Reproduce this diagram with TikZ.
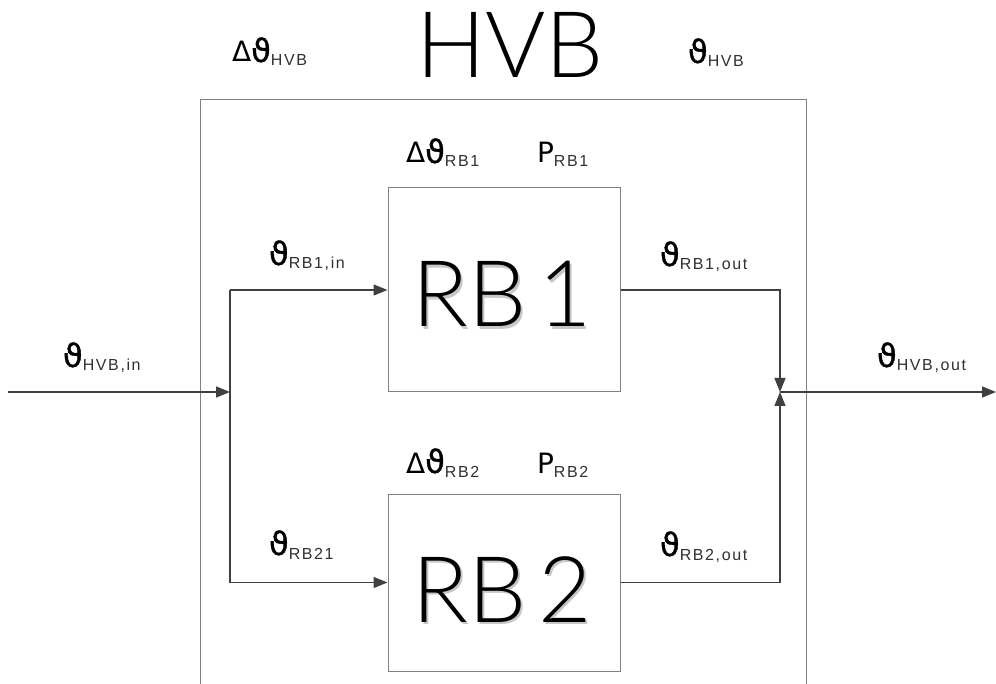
\documentclass[tikz,border=0pt]{standalone}
\usepackage{fontspec}
\setmainfont{Liberation Sans}
\newfontfamily\symfont{DejaVu Sans}
\newfontfamily\thfont{DejaVu Sans}[FakeBold=1.2]
\IfFontExistsTF{Lato Light}
  {\newfontfamily\lightfont{Lato Light}}
  {\IfFontExistsTF{Open Sans Light}
     {\newfontfamily\lightfont{Open Sans Light}}
     {\newfontfamily\lightfont{Liberation Sans}}}
\newfontfamily\subfont{Liberation Sans}[LetterSpace=10]
\usetikzlibrary{arrows.meta}
\definecolor{boxgray}{HTML}{808080}
\definecolor{linegray}{HTML}{404040}
\definecolor{subgray}{HTML}{303030}
\newcommand{\subtxt}[1]{\raisebox{-4pt}{\color{subgray}\subfont\fontsize{16}{16}\selectfont #1}}
\newcommand{\thsym}{{\thfont\fontsize{32}{32}\selectfont ϑ}}
\newcommand{\delsym}{{\symfont\fontsize{28}{28}\selectfont Δ}}
\newcommand{\psym}{{\symfont\fontsize{28}{28}\selectfont P}}
\newcommand{\shadowed}[1]{\rlap{\color{black!22}\kern2.5pt\raisebox{-2.5pt}{#1}}#1}
\tikzset{
  lbl/.style={anchor=base west, inner sep=0pt, outer sep=0pt},
  bigtxt/.style={anchor=base, inner sep=0pt, font=\lightfont\fontsize{92}{92}\selectfont},
  blockbox/.style={draw=boxgray, line width=1pt, fill=white, inner sep=0pt},
  conn/.style={draw=linegray, line width=1.3pt},
  arr/.style={conn, -{Triangle[length=14pt,width=11pt]}},
}
\begin{document}
\begin{tikzpicture}[x=1pt,y=-1pt]
\useasboundingbox (0,0) rectangle (996,684);
\clip (0,0) rectangle (996,684);
% outer box
\node[blockbox, minimum width=606pt, minimum height=620pt, anchor=north west] (outer) at (200,99) {};
\node[bigtxt] (title) at (510,78) {HVB};
\node[lbl] (dthvb) at (232,62) {\delsym\thsym\subtxt{HVB}};
\node[lbl] (thvb) at (688,63) {\thsym\subtxt{HVB}};
% blocks
\node[blockbox, minimum width=232pt, minimum height=204pt] (rb1) at (504,290) {};
\node[blockbox, minimum width=232pt, minimum height=177pt] (rb2) at (504,582.5) {};
\node[bigtxt] (rb1t) at (502,327) {\shadowed{RB\kern12pt1}};
\node[bigtxt] (rb2t) at (502,622) {\shadowed{RB\kern12pt2}};
% block labels
\node[lbl] (dtrb1) at (406,163) {\delsym\thsym\subtxt{RB1}};
\node[lbl] (prb1) at (537,163) {\psym\subtxt{RB1}};
\node[lbl] (dtrb2) at (406,473) {\delsym\thsym\subtxt{RB2}};
\node[lbl] (prb2) at (537,473) {\psym\subtxt{RB2}};
% connector labels
\node[lbl] (tin) at (63,367) {\thsym\subtxt{HVB,in}};
\node[lbl] (tout) at (877,367) {\thsym\subtxt{HVB,out}};
\node[lbl] (trb1in) at (269,265) {\thsym\subtxt{RB1,in}};
\node[lbl] (trb1out) at (660,266) {\thsym\subtxt{RB1,out}};
\node[lbl] (trb2in) at (269,555) {\thsym\subtxt{RB21}};
\node[lbl] (trb2out) at (660,556) {\thsym\subtxt{RB2,out}};
% coordinates
\coordinate (src) at (8,392);
\coordinate (split) at (230,392);
\coordinate (s1) at (230,290);
\coordinate (s2) at (230,582.5);
\coordinate (m1) at (780,290);
\coordinate (m2) at (780,582.5);
\coordinate (merge) at (780,392);
\coordinate (dst) at (996,392);
% connectors
\draw[arr] (src) -- (split);
\draw[conn] (s1) -- (s2);
\draw[arr] (s1) -- (rb1.west);
\draw[arr] (s2) -- (rb2.west);
\draw[arr] (rb1.east) -- (m1) -- (merge);
\draw[arr] (rb2.east) -- (m2) -- (merge);
\draw[arr] (merge) -- (dst);
\end{tikzpicture}
\end{document}
